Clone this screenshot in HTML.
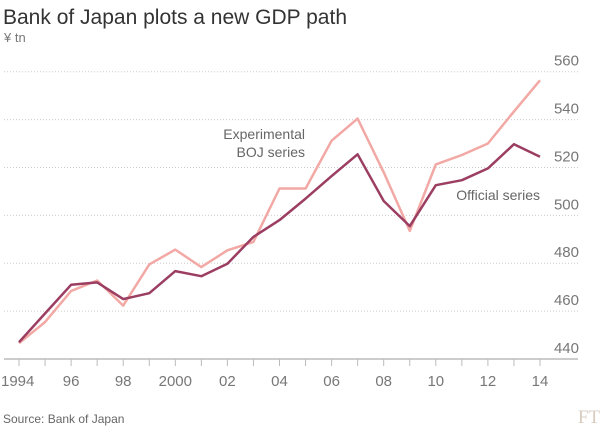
<!DOCTYPE html>
<html><head><meta charset="utf-8"><style>
body{margin:0;background:#fff;}
svg{display:block;font-family:"Liberation Sans",sans-serif;}
</style></head><body>
<svg id="chart" width="602" height="426">
<text x="3" y="24" font-size="21" fill="#333">Bank of Japan plots a new GDP path</text>
<text x="4" y="42" font-size="13" fill="#777">¥ tn</text>
<g id="grid"></g><g id="axis"></g><g id="lines"></g>
<text x="305" y="139" font-size="14" fill="#666" text-anchor="end">Experimental</text>
<text x="305" y="157" font-size="14" fill="#666" text-anchor="end">BOJ series</text>
<text x="540" y="200" font-size="14" fill="#666" text-anchor="end">Official series</text>
<text x="3" y="423" font-size="12" fill="#666">Source: Bank of Japan</text>
<text x="600" y="423" font-size="19" fill="#d9ccc0" text-anchor="end" font-family="Liberation Serif,serif">FT</text>
</svg>
<script>
const years=[1994,1995,1996,1997,1998,1999,2000,2001,2002,2003,2004,2005,2006,2007,2008,2009,2010,2011,2012,2013,2014];
const official=[447,459,471,472,465,467.5,476.7,474.6,479.8,491,498,507,516.4,525.5,506,495.5,512.6,514.7,519.6,529.7,524.5];
const experimental=[446.6,455.4,468.4,472.8,462.3,479.5,485.7,478.4,485.4,488.9,511.2,511.2,531.2,540.4,518,493.5,521.3,525.2,530,543.4,556.4];
const yTicks=[440,460,480,500,520,540,560];
const xLabels=["1994","96","98","2000","02","04","06","08","10","12","14"];
const NS="http://www.w3.org/2000/svg";
const X=y=>19+(y-1994)*(540-19)/20;
const Y=v=>359-(v-440)*(359-71.7)/120;
function mk(t,a,p){const e=document.createElementNS(NS,t);for(const k in a)e.setAttribute(k,a[k]);p.appendChild(e);return e;}
const grid=document.getElementById('grid'),axis=document.getElementById('axis'),lines=document.getElementById('lines');
yTicks.forEach(v=>{
 if(v>440){const l=mk('line',{x1:4,x2:578,y1:Y(v),y2:Y(v),stroke:'#ccc','stroke-dasharray':'1,2'},grid);
 
 }
 const t=mk('text',{x:579,y:Y(v)-6,'font-size':15,fill:'#777','text-anchor':'end'},grid);t.textContent=v;
 
 
});
const ax=mk('line',{x1:4,x2:578,y1:359,y2:359,stroke:'#bbb','stroke-width':1.5},axis);


years.forEach(y=>{const tk=mk('line',{x1:X(y),x2:X(y),y1:359,y2:366,stroke:'#bbb'},axis);
 
 });
xLabels.forEach((s,i)=>{const t=mk('text',{x:X(1994+2*i),y:386,'font-size':15,fill:'#777','text-anchor':i==0?'start':'middle'},axis);
 if(i==0)t.setAttribute('x',1);
 t.textContent=s;
 
 });
function path(vals,col,w,name){const d=vals.map((v,i)=>(i?'L':'M')+X(years[i]).toFixed(1)+','+Y(v).toFixed(1)).join('');
 const p=mk('path',{d:d,fill:'none',stroke:col,'stroke-width':w,'stroke-linejoin':'round'},lines);
 
 }
path(experimental,'#f2a8a4',2.5,'experimental-series-line');
path(official,'#9b3e62',2.5,'official-series-line');
</script>
</body></html>
